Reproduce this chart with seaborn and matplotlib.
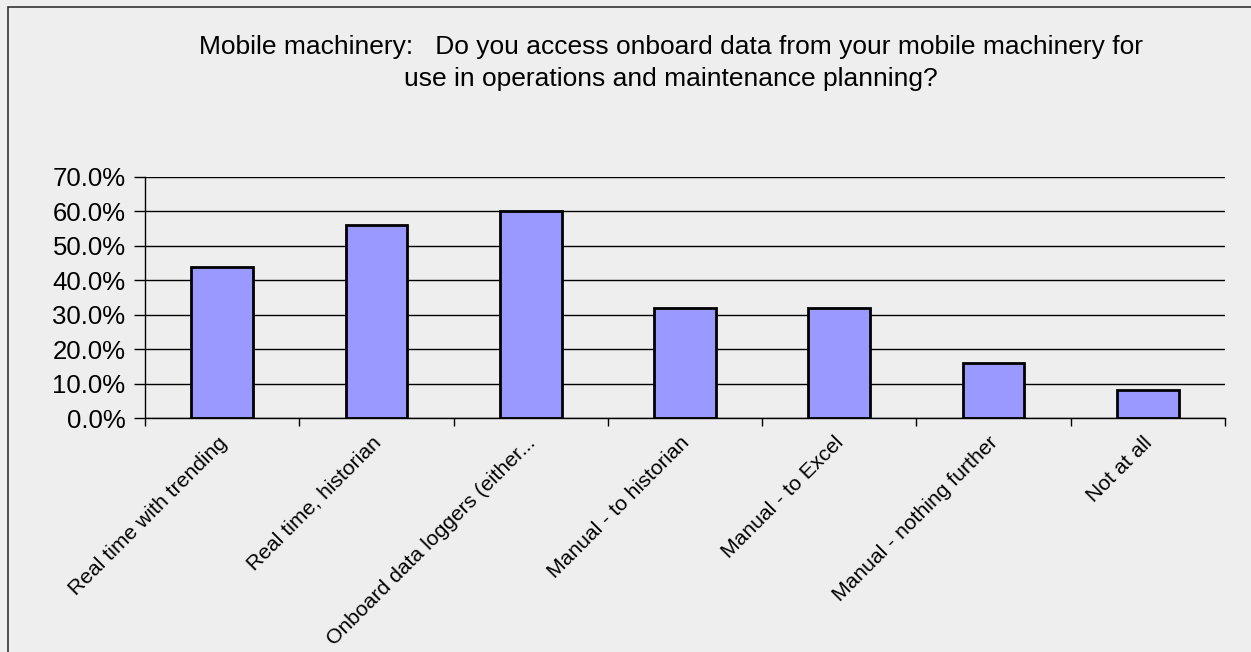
import matplotlib
matplotlib.use("Agg")
import matplotlib.pyplot as plt
import matplotlib.transforms as mtransforms
import seaborn as sns
import pandas as pd
from matplotlib.ticker import FuncFormatter, MultipleLocator
from matplotlib.patches import Rectangle

categories = ["Real time with trending", "Real time, historian", "Onboard data loggers (either...",
              "Manual - to historian", "Manual - to Excel", "Manual - nothing further", "Not at all"]
values = [44.0, 56.0, 60.0, 32.0, 32.0, 16.0, 8.0]
title_lines = ["Mobile machinery:   Do you access onboard data from your mobile machinery for",
               "use in operations and maintenance planning?"]

sns.set_theme(style="white")
plt.rcParams['font.family'] = ['Liberation Sans', 'DejaVu Sans']
plt.rcParams['text.color'] = 'black'
plt.rcParams['xtick.color'] = 'black'
plt.rcParams['ytick.color'] = 'black'
plt.rcParams['axes.labelcolor'] = 'black'

bg = "#EEEEEE"
fig = plt.figure(figsize=(12.51, 6.52), dpi=100, facecolor=bg)
ax = fig.add_axes([145/1251, 1-418/652, (1225-145)/1251, (418-177)/652])
ax.set_facecolor(bg)

df = pd.DataFrame({"cat": categories, "val": values})
sns.barplot(data=df, x="cat", y="val", ax=ax, color="#9999FF", width=0.4,
            edgecolor="black", linewidth=2, saturation=1)
for p in ax.patches:
    p.set_facecolor("#9999FF")

ax.set_ylim(0, 70)
ax.set_xlim(-0.5, len(categories) - 0.5)
ax.yaxis.set_major_locator(MultipleLocator(10))
ax.yaxis.set_major_formatter(FuncFormatter(lambda v, p: f"{v:.1f}%"))
ax.grid(axis="y", color="black", linewidth=1)
ax.set_axisbelow(True)
for s in ["top", "right"]:
    ax.spines[s].set_visible(False)
for s in ["left", "bottom"]:
    ax.spines[s].set_color("black")
    ax.spines[s].set_linewidth(1)
ax.set_xlabel("")
ax.set_ylabel("")
ax.tick_params(axis="y", length=8, width=1, color="black", labelsize=18.5, pad=6, left=True,
               direction="out", labelcolor="black")
ax.set_xticks(range(len(categories)))
ax.set_xticklabels(categories, rotation=45, ha="right", rotation_mode="anchor", fontsize=15.2, color="black")
ax.tick_params(axis="x", length=0, pad=11)
ax.set_xticks([i - 0.5 for i in range(len(categories) + 1)], minor=True)
ax.tick_params(axis="x", which="minor", length=6, width=1, color="black", bottom=True, direction="out")
offset = mtransforms.ScaledTranslation(-5/100, 0, fig.dpi_scale_trans)
for lbl in ax.get_xticklabels():
    lbl.set_transform(lbl.get_transform() + offset)

for y, line in zip([47, 79], title_lines):
    fig.text(671/1251, 1-y/652, line, ha="center", va="center", fontsize=19, color="black")

fig.patches.append(Rectangle((8/1251, -0.05), 1.2, 1 - 7/652 + 0.05, transform=fig.transFigure,
                             fill=False, edgecolor="#333333", linewidth=1.2))

fig.savefig("out.png", dpi=100, facecolor=bg)
